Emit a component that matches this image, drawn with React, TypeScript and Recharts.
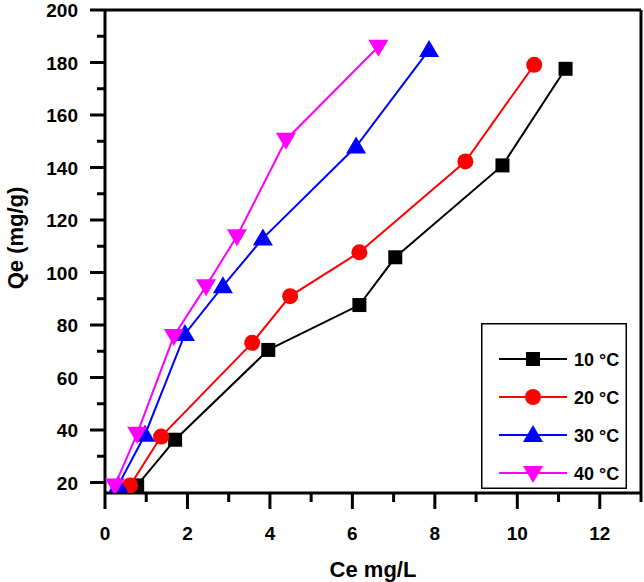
import React from "react";
import {
  ScatterChart,
  Scatter,
  XAxis,
  YAxis,
  ReferenceLine,
  Legend,
} from "recharts";

// Ce (mg/L) and Qe (mg/g) per temperature
const ce10 = [0.78, 1.7, 3.96, 6.17, 7.04, 9.64, 11.17];
const qe10 = [18.9, 36.3, 70.5, 87.6, 105.8, 140.8, 177.6];
const ce20 = [0.61, 1.36, 3.57, 4.49, 6.17, 8.74, 10.41];
const qe20 = [18.9, 37.5, 73.2, 91.0, 107.7, 142.3, 179.1];
const ce30 = [0.32, 0.97, 1.94, 2.86, 3.83, 6.09, 7.86];
const qe30 = [18.9, 38.2, 76.6, 94.8, 113.0, 148.0, 184.8];
const ce40 = [0.24, 0.78, 1.67, 2.45, 3.2, 4.39, 6.63];
const qe40 = [18.9, 38.6, 75.8, 94.8, 113.8, 150.6, 186.0];

const labels = ["10 °C", "20 °C", "30 °C", "40 °C"];
const colors = ["#000000", "#ff0000", "#0000ff", "#ff00ff"];
const shapes = ["square", "circle", "up", "down"];

const xTicks = [0, 1, 2, 3, 4, 5, 6, 7, 8, 9, 10, 11, 12, 13];
const xLabeled = [0, 2, 4, 6, 8, 10, 12];
const yTicks = [20, 30, 40, 50, 60, 70, 80, 90, 100, 110, 120, 130, 140, 150, 160, 170, 180, 190, 200];
const yLabeled = [20, 40, 60, 80, 100, 120, 140, 160, 180, 200];

const FONT = "'Liberation Sans', Arial, sans-serif";

const toPoints = (ce: number[], qe: number[]) => ce.map((x, i) => ({ x, y: qe[i] }));

const series = [
  { name: labels[0], color: colors[0], shape: shapes[0], data: toPoints(ce10, qe10) },
  { name: labels[1], color: colors[1], shape: shapes[1], data: toPoints(ce20, qe20) },
  { name: labels[2], color: colors[2], shape: shapes[2], data: toPoints(ce30, qe30) },
  { name: labels[3], color: colors[3], shape: shapes[3], data: toPoints(ce40, qe40) },
];

function marker(shape: string, cx: number, cy: number, color: string) {
  if (shape === "square") {
    return <rect x={cx - 7} y={cy - 7} width={14} height={14} fill={color} />;
  }
  if (shape === "circle") {
    return <circle cx={cx} cy={cy} r={8} fill={color} />;
  }
  if (shape === "up") {
    return (
      <polygon
        points={`${cx - 10},${cy + 7} ${cx + 10},${cy + 7} ${cx},${cy - 10}`}
        fill={color}
      />
    );
  }
  return (
    <polygon
      points={`${cx - 10},${cy - 7} ${cx + 10},${cy - 7} ${cx},${cy + 10}`}
      fill={color}
    />
  );
}

const YTick = (props: any) => {
  const { x, y, payload } = props;
  const major = yLabeled.includes(payload.value);
  const len = major ? 15 : 8;
  return (
    <g>
      <line x1={x} y1={y} x2={x - len} y2={y} stroke="#000" strokeWidth={3} />
      {major && (
        <text
          x={x - 27}
          y={y + 7}
          textAnchor="end"
          fontFamily={FONT}
          fontWeight="bold"
          fontSize={19}
          fill="#000"
        >
          {payload.value}
        </text>
      )}
    </g>
  );
};

const XTick = (props: any) => {
  const { x, y, payload } = props;
  const major = xLabeled.includes(payload.value);
  const len = major ? 16 : 9;
  return (
    <g>
      <line x1={x} y1={y} x2={x} y2={y + len} stroke="#000" strokeWidth={3} />
      {major && (
        <text
          x={x}
          y={y + 47}
          textAnchor="middle"
          fontFamily={FONT}
          fontWeight="bold"
          fontSize={19}
          fill="#000"
        >
          {payload.value}
        </text>
      )}
    </g>
  );
};

const renderLegend = () => (
  <svg width={146} height={166} style={{ display: "block" }}>
    <rect x={0.75} y={0.75} width={144.5} height={164.5} fill="#fff" stroke="#000" strokeWidth={1.5} />
    {series.map((s, i) => {
      const cy = 36 + i * 38;
      return (
        <g key={s.name}>
          <line x1={18} y1={cy} x2={86} y2={cy} stroke={s.color} strokeWidth={2} />
          {marker(s.shape, 52, cy, s.color)}
          <text
            x={93}
            y={cy + 7}
            fontFamily={FONT}
            fontWeight="bold"
            fontSize={18}
            fill="#000"
          >
            {s.name}
          </text>
        </g>
      );
    })}
  </svg>
);

export default function App() {
  return (
    <div style={{ position: "absolute", left: 0, top: 0, width: 644, height: 582, background: "#fff" }}>
      <ScatterChart
        width={644}
        height={582}
        margin={{ top: 10, right: 3, bottom: 0, left: 0 }}
      >
        <XAxis
          type="number"
          dataKey="x"
          domain={[0, 13]}
          ticks={xTicks}
          interval={0}
          allowDataOverflow
          height={89}
          tickSize={0}
          tickMargin={0}
          tick={<XTick />}
          axisLine={{ stroke: "#000", strokeWidth: 3 }}
          label={{
            value: "Ce mg/L",
            position: "insideBottom",
            offset: 5,
            style: { fontFamily: FONT, fontWeight: "bold", fontSize: 22, fill: "#000" },
          }}
        />
        <YAxis
          type="number"
          dataKey="y"
          domain={[16, 200]}
          ticks={yTicks}
          interval={0}
          allowDataOverflow
          width={105}
          tickSize={0}
          tickMargin={0}
          tick={<YTick />}
          axisLine={{ stroke: "#000", strokeWidth: 3 }}
          label={{
            content: () => (
              <text
                x={23}
                y={238}
                transform="rotate(-90 23 238)"
                textAnchor="middle"
                fontFamily={FONT}
                fontWeight="bold"
                fontSize={22}
                fill="#000"
              >
                Qe (mg/g)
              </text>
            ),
          }}
        />
        <ReferenceLine y={200} stroke="#000" strokeWidth={3} />
        <ReferenceLine x={13} stroke="#000" strokeWidth={3} />
        {series.map((s) => (
          <Scatter
            key={s.name}
            name={s.name}
            data={s.data}
            fill={s.color}
            line={{ stroke: s.color, strokeWidth: 2 }}
            lineType="joint"
            isAnimationActive={false}
            shape={(p: any) => marker(s.shape, p.cx, p.cy, s.color)}
          />
        ))}
        <Legend
          layout="vertical"
          align="center"
          verticalAlign="middle"
          content={renderLegend}
          wrapperStyle={{ position: "absolute", left: 481, top: 323, width: 146, height: 166 }}
        />
      </ScatterChart>
    </div>
  );
}
